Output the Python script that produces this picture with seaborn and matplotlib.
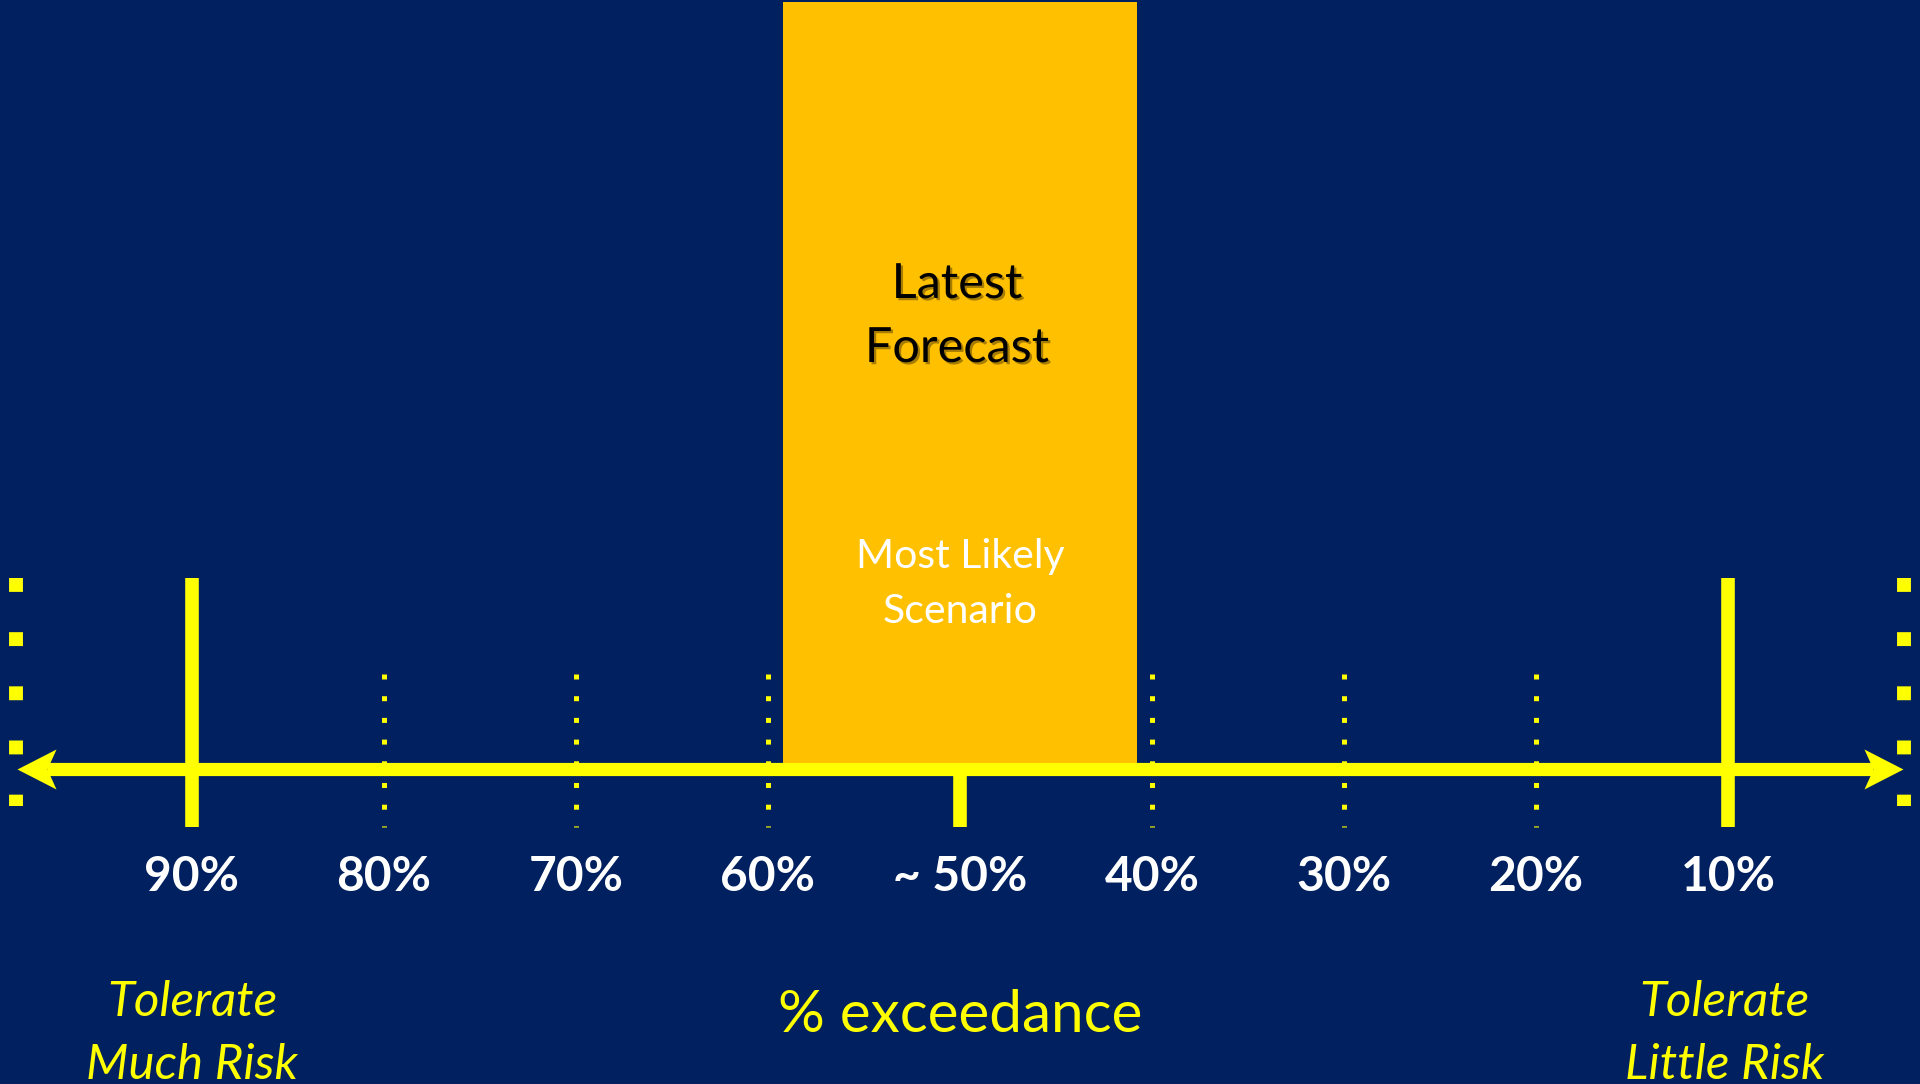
import matplotlib
matplotlib.use("Agg")
import matplotlib.pyplot as plt
from matplotlib.path import Path
import matplotlib.patheffects as pe
import seaborn as sns

# ---- data (percent exceedance scale) ----
tick_values = [90, 80, 70, 60, 50, 40, 30, 20, 10]
tick_labels = ["90%", "80%", "70%", "60%", "~ 50%", "40%", "30%", "20%", "10%"]
solid_ticks = [90, 10]
center_tick = [50]
dotted_ticks = [80, 70, 60, 40, 30, 20]
forecast_low = 59.2
forecast_high = 40.8
axis_start = 99.1
axis_end = 0.9
edge_dot_positions = [99.17, 0.83]

NAVY = "#002060"
YELLOW = "#FFFF00"
ORANGE = "#FFC000"

sns.set_theme(style="white", rc={"figure.facecolor": NAVY, "axes.facecolor": NAVY})
plt.rcParams["font.family"] = ["Lato", "DejaVu Sans"]

fig = plt.figure(figsize=(19.2, 10.84), dpi=100)
ax = fig.add_axes([0, 0, 1, 1])
ax.set_facecolor(NAVY)
ax.set_xlim(100, 0)
ax.set_ylim(-315, 769)
ax.set_axis_off()

# forecast band
ax.bar((forecast_low + forecast_high) / 2, 767, width=forecast_low - forecast_high,
       bottom=0, color=ORANGE, linewidth=0, zorder=1)

# dotted minor ticks
for p in dotted_ticks:
    ax.plot([p, p], [95, -58], color=YELLOW, lw=3.6, linestyle=(0, (1, 3.34)),
            dash_capstyle="butt", solid_capstyle="butt", zorder=2)

# edge square dots
for p in edge_dot_positions:
    ax.plot([p, p], [191, -37], color=YELLOW, lw=10, linestyle=(0, (1, 2.9)),
            dash_capstyle="butt", zorder=2)

# solid ticks
for p in solid_ticks:
    ax.plot([p, p], [191, -58], color=YELLOW, lw=9.8, solid_capstyle="butt", zorder=3)
for p in center_tick:
    ax.plot([p, p], [0, -58], color=YELLOW, lw=9.8, solid_capstyle="butt", zorder=3)

# main axis shaft
inset = 1.56
ax.plot([axis_start - inset, axis_end + inset], [0, 0], color=YELLOW, lw=9.5,
        solid_capstyle="butt", zorder=4)

# arrow heads as markers
right_head = Path([(0, 0), (-39, 20), (-30, 0), (-39, -20), (0, 0)],
                  [Path.MOVETO, Path.LINETO, Path.LINETO, Path.LINETO, Path.CLOSEPOLY])
left_head = Path([(0, 0), (39, 20), (30, 0), (39, -20), (0, 0)],
                 [Path.MOVETO, Path.LINETO, Path.LINETO, Path.LINETO, Path.CLOSEPOLY])
ax.plot([axis_end], [0], marker=right_head, markersize=56.2, color=YELLOW,
        markeredgewidth=0, zorder=5)
ax.plot([axis_start], [0], marker=left_head, markersize=56.2, color=YELLOW,
        markeredgewidth=0, zorder=5)

# tick labels
for p, lab in zip(tick_values, tick_labels):
    ax.text(p, -122, lab, ha="center", va="baseline", fontsize=34.5,
            fontweight="bold", color="white", zorder=6)

# band texts
shadow = [pe.withSimplePatchShadow(offset=(1.6, -1.6), shadow_rgbFace="#000000", alpha=0.35)]
ax.text(50.16, 471, "Latest", ha="center", va="baseline", fontsize=35,
        color="black", path_effects=shadow, zorder=6)
ax.text(50.16, 407, "Forecast", ha="center", va="baseline", fontsize=35,
        color="black", path_effects=shadow, zorder=6)
ax.text(50, 201, "Most Likely", ha="center", va="baseline", fontsize=29.5,
        color="white", zorder=6)
ax.text(50, 146, "Scenario", ha="center", va="baseline", fontsize=29.5,
        color="white", zorder=6)

# bottom labels
ax.text(50, -263, "% exceedance", ha="center", va="baseline", fontsize=42,
        color=YELLOW, zorder=6)
ax.text(90, -247, "Tolerate", ha="center", va="baseline", fontsize=35.5,
        style="italic", color=YELLOW, zorder=6)
ax.text(90, -310, "Much Risk", ha="center", va="baseline", fontsize=35.5,
        style="italic", color=YELLOW, zorder=6)
ax.text(10.2, -247, "Tolerate", ha="center", va="baseline", fontsize=35.5,
        style="italic", color=YELLOW, zorder=6)
ax.text(10.2, -310, "Little Risk", ha="center", va="baseline", fontsize=35.5,
        style="italic", color=YELLOW, zorder=6)

fig.savefig("out.png", dpi=100, facecolor=NAVY)
